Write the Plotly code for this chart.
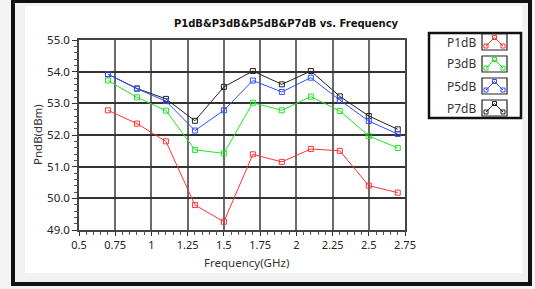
import plotly.graph_objects as go

freq = [0.7, 0.9, 1.1, 1.3, 1.5, 1.7, 1.9, 2.1, 2.3, 2.5, 2.7]
p1db = [52.78, 52.36, 51.80, 49.79, 49.26, 51.39, 51.15, 51.56, 51.50, 50.40, 50.18]
p3db = [53.72, 53.19, 52.77, 51.53, 51.42, 53.02, 52.78, 53.21, 52.76, 51.97, 51.59]
p5db = [53.92, 53.46, 53.07, 52.14, 52.78, 53.72, 53.36, 53.81, 53.10, 52.44, 52.03]
p7db = [53.92, 53.47, 53.14, 52.45, 53.52, 54.02, 53.60, 54.02, 53.22, 52.60, 52.18]
series_names = ["P1dB", "P3dB", "P5dB", "P7dB"]
series_colors = ["#ff3333", "#22e622", "#2f4fff", "#222222"]
x_tick_vals = [0.5, 0.75, 1, 1.25, 1.5, 1.75, 2, 2.25, 2.5, 2.75]
x_tick_text = ["0.5", "0.75", "1", "1.25", "1.5", "1.75", "2", "2.25", "2.5", "2.75"]
y_tick_vals = [49, 50, 51, 52, 53, 54, 55]
y_tick_text = ["49.0", "50.0", "51.0", "52.0", "53.0", "54.0", "55.0"]

W, H = 535, 289
L, R, T, B = 79, 130, 40, 59
PW, PH = W - L - R, H - T - B

def px(x):
    return (x - L) / PW

def py(y):
    return (H - B - y) / PH

fig = go.Figure()
values = {"P1dB": p1db, "P3dB": p3db, "P5dB": p5db, "P7dB": p7db}
for name in ["P7dB", "P1dB", "P3dB", "P5dB"]:
    c = series_colors[series_names.index(name)]
    fig.add_trace(go.Scatter(
        x=freq, y=values[name], mode="lines+markers", name=name,
        line=dict(color=c, width=1),
        marker=dict(symbol="square-open", size=5, color=c, line=dict(width=1, color=c)),
        showlegend=False,
    ))

font_ui = "Noto Sans"
shapes = []
# outer panel and frame
shapes.append(dict(type="rect", xref="paper", yref="paper", layer="below",
                   x0=px(13), x1=px(530), y0=py(284), y1=py(1),
                   line=dict(color="#111", width=4), fillcolor="#f2f2f2"))
shapes.append(dict(type="rect", xref="paper", yref="paper", layer="below",
                   x0=px(25), x1=px(522), y0=py(273), y1=py(6),
                   line=dict(width=0), fillcolor="#ffffff"))
# legend box
shapes.append(dict(type="rect", xref="paper", yref="paper",
                   x0=px(429), x1=px(521), y0=py(118), y1=py(33),
                   line=dict(color="#111", width=2.5), fillcolor="rgba(0,0,0,0)"))
annotations = []
leg_y = [42, 64, 86, 108]
for name, c, yc in zip(series_names, series_colors, leg_y):
    annotations.append(dict(x=px(445), y=py(yc), xref="paper", yref="paper",
                            text=name, showarrow=False, xanchor="left", yanchor="middle",
                            font=dict(family=font_ui, size=12, color="#333")))
    bx0, bx1, by0, by1 = 482, 507, yc - 8, yc + 8
    shapes.append(dict(type="rect", xref="paper", yref="paper",
                       x0=px(bx0), x1=px(bx1), y0=py(by1), y1=py(by0),
                       line=dict(color="#222", width=1.2), fillcolor="white"))
    pts = [(bx0 + 4, by1 - 4), (bx0 + 12.5, by0 + 3.5), (bx1 - 4, by1 - 4)]
    path = "M {} {} L {} {} L {} {}".format(
        px(pts[0][0]), py(pts[0][1]), px(pts[1][0]), py(pts[1][1]), px(pts[2][0]), py(pts[2][1]))
    shapes.append(dict(type="path", xref="paper", yref="paper", path=path,
                       line=dict(color=c, width=1)))
    for (qx, qy) in pts:
        shapes.append(dict(type="rect", xref="paper", yref="paper",
                           x0=px(qx - 2), x1=px(qx + 2), y0=py(qy + 2), y1=py(qy - 2),
                           line=dict(color=c, width=1), fillcolor="rgba(0,0,0,0)"))

annotations.append(dict(x=px(37), y=0.5, xref="paper", yref="paper", text="PndB(dBm)",
                        textangle=-90, showarrow=False, xanchor="center", yanchor="middle",
                        font=dict(family=font_ui, size=11.5, color="#333")))
annotations.append(dict(x=px(246), y=py(262), xref="paper", yref="paper", text="Frequency(GHz)",
                        showarrow=False, xanchor="center", yanchor="middle",
                        font=dict(family=font_ui, size=11.5, color="#333")))

fig.update_layout(
    width=W, height=H,
    margin=dict(l=L, r=R, t=T, b=B, pad=0),
    paper_bgcolor="#f4f4f4", plot_bgcolor="white",
    title=dict(text="<b>P1dB&P3dB&P5dB&P7dB vs. Frequency</b>", x=px(286), xanchor="center",
               xref="paper", y=1 - 23 / H, yanchor="middle", yref="container",
               font=dict(family="DejaVu Sans", size=10, color="#111")),
    shapes=shapes, annotations=annotations,
)
fig.update_xaxes(range=[0.5, 2.75], tickmode="array", tickvals=x_tick_vals, ticktext=x_tick_text,
                 showgrid=True, gridcolor="#6a6a6a", gridwidth=2,
                 showline=True, linecolor="#444", linewidth=1.5, mirror=True,
                 ticks="outside", ticklen=4, tickcolor="#333", zeroline=False,
                 minor=dict(dtick=0.05, ticks="outside", ticklen=3, tickcolor="#555", showgrid=False),
                 tickfont=dict(family=font_ui, size=11, color="#222"))
fig.update_yaxes(range=[49, 55], tickmode="array", tickvals=y_tick_vals, ticktext=y_tick_text,
                 showgrid=True, gridcolor="#333", gridwidth=1.5,
                 showline=True, linecolor="#444", linewidth=1.5, mirror=True,
                 ticks="outside", ticklen=5, tickcolor="#333", zeroline=False,
                 minor=dict(dtick=0.2, ticks="outside", ticklen=3, tickcolor="#555", showgrid=False),
                 tickfont=dict(family=font_ui, size=11.5, color="#222"))

fig.write_html("out.html", config={"displayModeBar": False},
               post_script="document.body.style.margin='0';document.body.style.overflow='hidden';")
